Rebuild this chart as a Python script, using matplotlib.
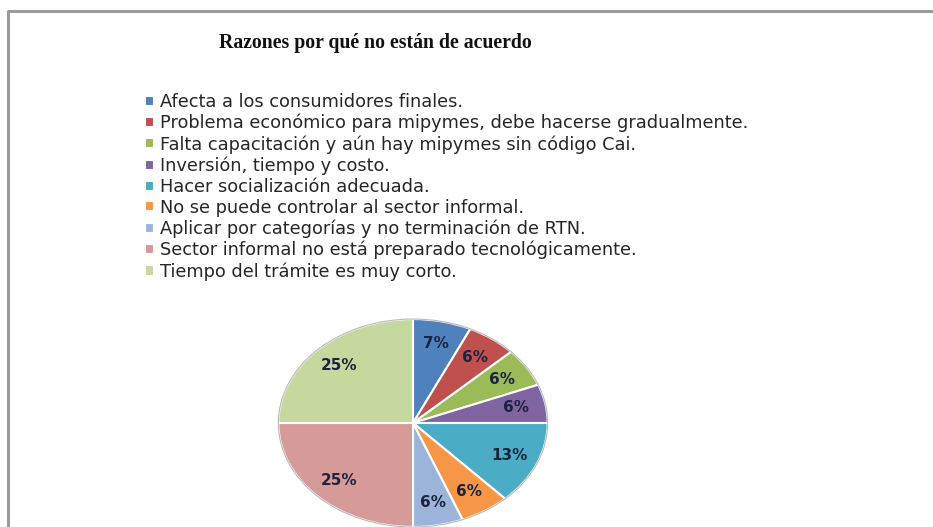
import matplotlib

matplotlib.use("Agg")
import matplotlib.pyplot as plt
from matplotlib.lines import Line2D
from matplotlib.patches import Ellipse

TITLE = "Razones por qué no están de acuerdo"
LABELS = [
    "Afecta a los consumidores finales.",
    "Problema económico para mipymes, debe hacerse gradualmente.",
    "Falta capacitación y aún hay mipymes sin código Cai.",
    "Inversión, tiempo y costo.",
    "Hacer socialización adecuada.",
    "No se puede controlar al sector informal.",
    "Aplicar por categorías y no terminación de RTN.",
    "Sector informal no está preparado tecnológicamente.",
    "Tiempo del trámite es muy corto.",
]
PERCENTS = [7, 6, 6, 6, 13, 6, 6, 25, 25]
COLORS = ["#4F81BD", "#C0504D", "#9BBB59", "#8064A2", "#4BACC6",
          "#F79646", "#9DB4DA", "#D69A98", "#C5D89E"]

W, H = 933, 527
fig = plt.figure(figsize=(W / 100, H / 100), dpi=100)
fig.patch.set_facecolor("white")

# grey frame (only top and left edges are visible in the crop)
fig.add_artist(Line2D([8 / W, 8 / W, 1.0], [0.0, 1 - 11 / H, 1 - 11 / H],
                      transform=fig.transFigure, color="#9a9a9a", lw=2.2))

fig.text(375 / W, 1 - 43 / H, TITLE, ha="center", va="center",
         fontsize=14.2, fontweight="bold", family="Liberation Serif",
         color="#111111")

# pie squashed into an ellipse: centre (413, 423) px, rx 136, ry 105
cx, cy, rx, ry = 413, 423, 136, 105
ax = fig.add_axes([(cx - rx) / W, (H - cy - ry) / H, 2 * rx / W, 2 * ry / H])
wedges, _, autotexts = ax.pie(
    PERCENTS, colors=COLORS, startangle=90, counterclock=False,
    autopct=lambda p: f"{p:.0f}%", pctdistance=0.78, radius=1.0,
    wedgeprops=dict(edgecolor="white", linewidth=1.5),
    textprops=dict(fontsize=11, fontweight="bold", color="#1c2340"),
)
ax.add_patch(Ellipse((0, 0), 2.0, 2.0, fill=False, edgecolor="#b8b8b8",
                     linewidth=0.8))
ax.set_aspect("auto")
ax.set_xlim(-1.01, 1.01)
ax.set_ylim(-1.01, 1.01)
ax.axis("off")

leg = fig.legend(wedges, LABELS, loc="upper left",
                 bbox_to_anchor=(145 / W, 1 - 93 / H), frameon=False,
                 fontsize=12.8, handlelength=0.5, handleheight=0.5,
                 handletextpad=0.35, labelspacing=0.16, borderpad=0,
                 borderaxespad=0)
for t in leg.get_texts():
    t.set_color("#262626")

fig.savefig("out.png", dpi=100, facecolor="white")
